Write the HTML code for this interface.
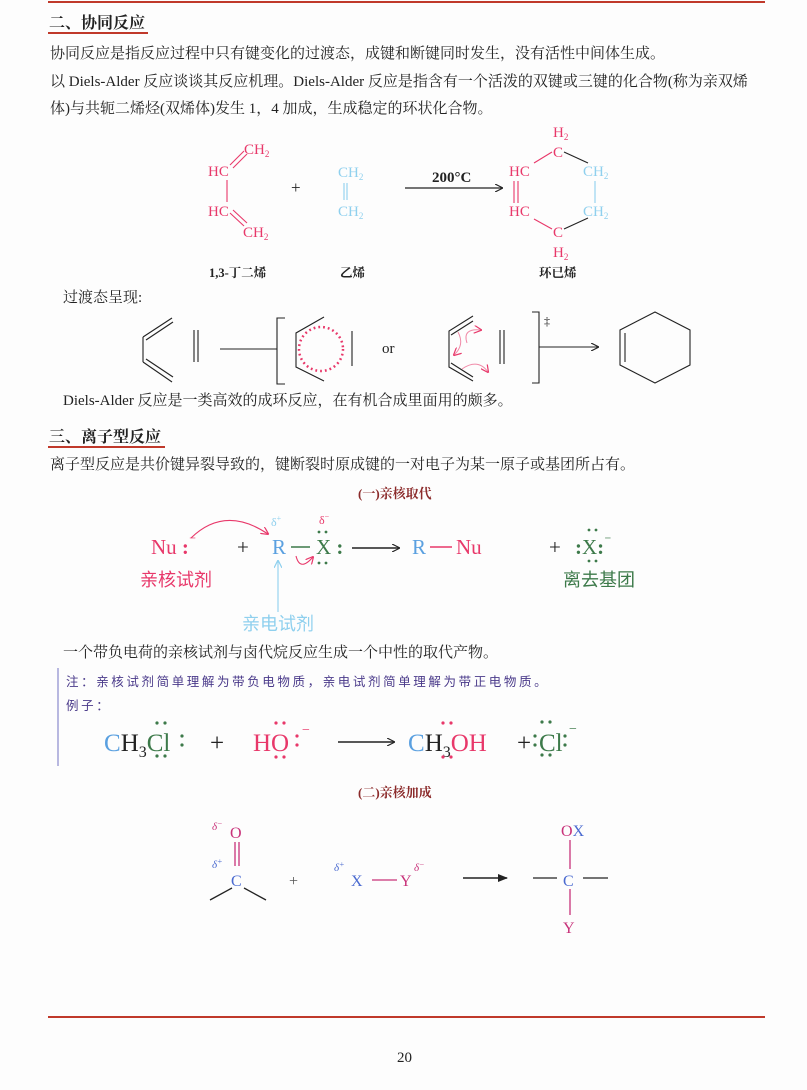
<!DOCTYPE html>
<html><head><meta charset="utf-8"><style>
html,body{margin:0;padding:0;background:#fdfdfd;}
svg{display:block;}
.b{font-family:"Liberation Serif","Noto Serif CJK SC",serif;font-size:15px;fill:#222;}
.s{font-family:"Liberation Serif","Noto Serif CJK SC",serif;}
.h{font-family:"Liberation Serif","Noto Serif CJK SC",serif;font-size:16px;font-weight:bold;fill:#222;}
.k{font-family:"Liberation Sans","Noto Sans CJK SC",sans-serif;}
</style></head><body>
<svg width="807" height="1090" viewBox="0 0 807 1090" xmlns="http://www.w3.org/2000/svg">
<defs>
<marker id="ah" markerWidth="8" markerHeight="8" refX="7" refY="4" orient="auto" markerUnits="userSpaceOnUse"><path d="M0,0 L8,4 L0,8" fill="none" stroke="#222" stroke-width="1.2"/></marker>
<marker id="af" markerWidth="10" markerHeight="8" refX="9" refY="4" orient="auto" markerUnits="userSpaceOnUse"><path d="M0,0 L10,4 L0,8 Z" fill="#222"/></marker>
<marker id="ap" markerWidth="8" markerHeight="8" refX="7" refY="4" orient="auto" markerUnits="userSpaceOnUse"><path d="M0,0 L8,4 L0,8" fill="none" stroke="#e8386a" stroke-width="1.2"/></marker>
<marker id="ab" markerWidth="8" markerHeight="8" refX="7" refY="4" orient="auto" markerUnits="userSpaceOnUse"><path d="M0,0 L8,4 L0,8" fill="none" stroke="#8fd0ee" stroke-width="1.2"/></marker>
</defs>
<line x1="48" y1="2" x2="765" y2="2" stroke="#c0392b" stroke-width="2"/>
<text x="49" y="28" class="h">二、协同反应</text>
<line x1="48" y1="33" x2="148" y2="33" stroke="#c0392b" stroke-width="2"/>
<text x="50" y="58" class="b">协同反应是指反应过程中只有键变化的过渡态，成键和断键同时发生，没有活性中间体生成。</text>
<text x="50" y="86" class="b">以 Diels-Alder 反应谈谈其反应机理。Diels-Alder 反应是指含有一个活泼的双键或三键的化合物(称为亲双烯</text>
<text x="50" y="113" class="b">体)与共轭二烯烃(双烯体)发生 1，4 加成，生成稳定的环状化合物。</text>

<!-- reaction 1 -->
<g class="s" font-size="15" fill="#e8386a">
<text x="244" y="154">CH<tspan font-size="9" dy="3">2</tspan></text>
<text x="208" y="176">HC</text>
<text x="208" y="216">HC</text>
<text x="243" y="237">CH<tspan font-size="9" dy="3">2</tspan></text>
</g>
<g stroke="#e8386a" stroke-width="1.1">
<line x1="230" y1="165" x2="244" y2="151"/><line x1="233" y1="168" x2="247" y2="154"/>
<line x1="227" y1="180" x2="227" y2="202"/>
<line x1="230" y1="213" x2="244" y2="226"/><line x1="233" y1="210" x2="247" y2="223"/>
</g>
<text x="291" y="193" class="s" font-size="17" fill="#222">+</text>
<g class="s" font-size="15" fill="#8fd0ee">
<text x="338" y="177">CH<tspan font-size="9" dy="3">2</tspan></text>
<text x="338" y="216">CH<tspan font-size="9" dy="3">2</tspan></text>
</g>
<g stroke="#8fd0ee" stroke-width="1.1"><line x1="344" y1="183" x2="344" y2="200"/><line x1="347" y1="183" x2="347" y2="200"/></g>
<text x="432" y="182" class="s" font-size="15" font-weight="bold" fill="#222">200°C</text>
<line x1="405" y1="188" x2="502" y2="188" stroke="#222" stroke-width="1.2" marker-end="url(#ah)"/>
<g class="s" font-size="15" fill="#e8386a">
<text x="553" y="137">H<tspan font-size="9" dy="3">2</tspan></text>
<text x="553" y="157">C</text>
<text x="509" y="176">HC</text>
<text x="509" y="216">HC</text>
<text x="553" y="237">C</text>
<text x="553" y="257">H<tspan font-size="9" dy="3">2</tspan></text>
</g>
<g class="s" font-size="15" fill="#8fd0ee">
<text x="583" y="176">CH<tspan font-size="9" dy="3">2</tspan></text>
<text x="583" y="216">CH<tspan font-size="9" dy="3">2</tspan></text>
</g>
<g stroke-width="1.1">
<line x1="534" y1="163" x2="552" y2="152" stroke="#e8386a"/>
<line x1="564" y1="152" x2="588" y2="163" stroke="#222"/>
<line x1="514" y1="181" x2="514" y2="203" stroke="#e8386a"/><line x1="518" y1="181" x2="518" y2="203" stroke="#e8386a"/>
<line x1="595" y1="181" x2="595" y2="203" stroke="#8fd0ee"/>
<line x1="534" y1="219" x2="552" y2="229" stroke="#e8386a"/>
<line x1="564" y1="229" x2="588" y2="218" stroke="#222"/>
</g>
<g class="s" font-size="12.5" font-weight="bold" fill="#222">
<text x="209" y="277">1,3-丁二烯</text><text x="340" y="277">乙烯</text><text x="539" y="277">环已烯</text>
</g>
<text x="63" y="302" class="b">过渡态呈现:</text>

<!-- transition state -->
<g stroke="#222" stroke-width="1.1" fill="none">
<line x1="143" y1="337" x2="172" y2="318"/><line x1="146" y1="340" x2="173" y2="322"/>
<line x1="143" y1="337" x2="143" y2="362"/>
<line x1="143" y1="362" x2="172" y2="382"/><line x1="146" y1="359" x2="173" y2="377"/>
<line x1="194" y1="330" x2="194" y2="362"/><line x1="198" y1="330" x2="198" y2="362"/>
<line x1="220" y1="349" x2="277" y2="349"/>
<polyline points="285,318 277,318 277,384 285,384"/>
<polyline points="324,317 296,333 296,367 324,381"/>
<line x1="352" y1="331" x2="352" y2="366"/>
<polyline points="473,316 449,331 449,367 473,381"/>
<line x1="451" y1="335" x2="473" y2="321"/><line x1="451" y1="363" x2="473" y2="377"/>
<line x1="500" y1="330" x2="500" y2="364"/><line x1="504" y1="330" x2="504" y2="364"/>
<polyline points="532,312 539,312 539,383 532,383"/>
<polygon points="620,330 655,312 690,330 690,365 655,383 620,365"/>
<line x1="625" y1="333" x2="625" y2="362"/>
</g>
<line x1="539" y1="347" x2="598" y2="347" stroke="#222" stroke-width="1.1" marker-end="url(#ah)"/>
<circle cx="321" cy="349" r="22" fill="none" stroke="#e8386a" stroke-width="2.5" stroke-dasharray="1.8 3"/>
<text x="382" y="353" class="s" font-size="15" fill="#222">or</text>
<text x="544" y="325" class="s" font-size="12" fill="#222">‡</text>
<g stroke="#f08aa8" stroke-width="1" fill="none">
<path d="M467,343 Q462,328 481,330" marker-end="url(#ap)"/>
<path d="M458,332 Q465,345 454,355" marker-end="url(#ap)"/>
<path d="M462,369 Q478,358 488,372" marker-end="url(#ap)"/>
</g>
<text x="63" y="405" class="b">Diels-Alder 反应是一类高效的成环反应，在有机合成里面用的颇多。</text>

<text x="49" y="442" class="h">三、离子型反应</text>
<line x1="48" y1="447" x2="165" y2="447" stroke="#c0392b" stroke-width="2"/>
<text x="50" y="469" class="b">离子型反应是共价键异裂导致的，键断裂时原成键的一对电子为某一原子或基团所占有。</text>
<text x="358" y="498" class="s" font-size="13" font-weight="bold" fill="#8b2a2a">(一)亲核取代</text>

<!-- nucleophilic substitution -->
<g class="s" font-size="21">
<text x="151" y="554" fill="#e8386a">Nu<tspan font-weight="bold"> :</tspan><tspan font-size="14" dy="-9">⁻</tspan></text>
<text x="237" y="554" fill="#222">+</text>
<text x="272" y="554" fill="#5aa0e0">R</text>
<text x="316" y="554" fill="#3d7a4a">X<tspan font-weight="bold"> :</tspan></text>
<text x="412" y="554" fill="#5aa0e0">R</text>
<text x="456" y="554" fill="#e8386a">Nu</text>
<text x="549" y="554" fill="#222">+</text>
<text x="575" y="554" fill="#3d7a4a"><tspan font-weight="bold">:</tspan>X<tspan font-weight="bold">:</tspan><tspan font-size="14" dy="-9">⁻</tspan></text>
</g>
<line x1="291" y1="547" x2="310" y2="547" stroke="#3d7a4a" stroke-width="1.5"/>
<line x1="430" y1="547" x2="452" y2="547" stroke="#e8386a" stroke-width="1.5"/>
<line x1="352" y1="548" x2="399" y2="548" stroke="#222" stroke-width="1.6" marker-end="url(#ah)"/>
<g fill="#3d7a4a"><circle cx="319" cy="532" r="1.4"/><circle cx="326" cy="532" r="1.4"/><circle cx="319" cy="563" r="1.4"/><circle cx="326" cy="563" r="1.4"/>
<circle cx="589" cy="530" r="1.4"/><circle cx="596" cy="530" r="1.4"/><circle cx="589" cy="561" r="1.4"/><circle cx="596" cy="561" r="1.4"/></g>
<text x="271" y="526" class="s" font-size="12" fill="#8fd0ee">δ<tspan font-size="8" dy="-5">+</tspan></text>
<text x="319" y="524" class="s" font-size="12" fill="#e8386a">δ<tspan font-size="8" dy="-5">−</tspan></text>
<path d="M191,538 Q225,505 268,534" fill="none" stroke="#e8386a" stroke-width="1.1" marker-end="url(#ap)"/>
<path d="M296,556 Q300,572 313,557" fill="none" stroke="#e8386a" stroke-width="1.1" marker-end="url(#ap)"/>
<line x1="278" y1="612" x2="278" y2="561" stroke="#8fd0ee" stroke-width="1.1" marker-end="url(#ab)"/>
<g class="k" font-size="18">
<text x="140" y="586" fill="#e8386a">亲核试剂</text>
<text x="563" y="586" fill="#3d7a4a">离去基团</text>
<text x="242" y="630" fill="#8fd0ee">亲电试剂</text>
</g>
<text x="63" y="657" class="b">一个带负电荷的亲核试剂与卤代烷反应生成一个中性的取代产物。</text>

<line x1="58" y1="668" x2="58" y2="766" stroke="#b8b8e0" stroke-width="2"/>
<text x="66" y="686" class="k" font-size="12.5" letter-spacing="2.6" fill="#4a3a8a">注：亲核试剂简单理解为带负电物质，亲电试剂简单理解为带正电物质。</text>
<text x="66" y="710" class="k" font-size="12.5" letter-spacing="2.6" fill="#4a3a8a">例子：</text>
<g class="s" font-size="25">
<text x="104" y="751"><tspan fill="#5aa0e0">C</tspan><tspan fill="#222">H</tspan><tspan fill="#222" font-size="16" dy="6">3</tspan><tspan fill="#3d7a4a" dy="-6">Cl</tspan></text>
<text x="210" y="751" fill="#222">+</text>
<text x="253" y="751" fill="#e8386a">HO</text>
<text x="408" y="751"><tspan fill="#5aa0e0">C</tspan><tspan fill="#222">H</tspan><tspan fill="#222" font-size="16" dy="6">3</tspan><tspan fill="#e8386a" dy="-6">OH</tspan></text>
<text x="517" y="751" fill="#222">+</text>
<text x="539" y="751" fill="#3d7a4a">Cl</text>
</g>
<line x1="338" y1="742" x2="394" y2="742" stroke="#222" stroke-width="1.4" marker-end="url(#ah)"/>
<g fill="#3d7a4a"><circle cx="157" cy="723" r="1.6"/><circle cx="165" cy="723" r="1.6"/><circle cx="157" cy="756" r="1.6"/><circle cx="165" cy="756" r="1.6"/><circle cx="182" cy="736" r="1.6"/><circle cx="182" cy="745" r="1.6"/>
<circle cx="535" cy="736" r="1.6"/><circle cx="535" cy="745" r="1.6"/><circle cx="542" cy="722" r="1.6"/><circle cx="550" cy="722" r="1.6"/><circle cx="542" cy="755" r="1.6"/><circle cx="550" cy="755" r="1.6"/><circle cx="565" cy="736" r="1.6"/><circle cx="565" cy="745" r="1.6"/></g>
<g fill="#e8386a"><circle cx="276" cy="723" r="1.6"/><circle cx="284" cy="723" r="1.6"/><circle cx="276" cy="757" r="1.6"/><circle cx="284" cy="757" r="1.6"/><circle cx="297" cy="736" r="1.6"/><circle cx="297" cy="745" r="1.6"/>
<circle cx="443" cy="723" r="1.6"/><circle cx="451" cy="723" r="1.6"/><circle cx="443" cy="757" r="1.6"/><circle cx="451" cy="757" r="1.6"/></g>
<text x="302" y="734" class="s" font-size="14" fill="#e8386a">−</text>
<text x="569" y="733" class="s" font-size="14" fill="#3d7a4a">−</text>

<text x="358" y="797" class="s" font-size="13" font-weight="bold" fill="#8b2a2a">(二)亲核加成</text>
<!-- nucleophilic addition -->
<g class="s" font-size="16">
<text x="230" y="838" fill="#c8327a">O</text>
<text x="212" y="830" font-size="11" font-style="italic" fill="#c8327a">δ<tspan font-size="8" dy="-4">−</tspan></text>
<text x="212" y="868" font-size="11" font-style="italic" fill="#4a6ad0">δ<tspan font-size="8" dy="-4">+</tspan></text>
<text x="231" y="886" fill="#4a6ad0">C</text>
<text x="289" y="886" fill="#555">+</text>
<text x="334" y="871" font-size="11" font-style="italic" fill="#4a6ad0">δ<tspan font-size="8" dy="-4">+</tspan></text>
<text x="351" y="886" fill="#4a6ad0">X</text>
<text x="400" y="886" fill="#c8327a">Y</text>
<text x="414" y="871" font-size="11" font-style="italic" fill="#c8327a">δ<tspan font-size="8" dy="-4">−</tspan></text>
<text x="561" y="836" fill="#c8327a">O<tspan fill="#4a6ad0">X</tspan></text>
<text x="563" y="886" fill="#4a6ad0">C</text>
<text x="563" y="933" fill="#c8327a">Y</text>
</g>
<g stroke-width="1.3">
<line x1="235" y1="842" x2="235" y2="866" stroke="#c8327a"/><line x1="239" y1="842" x2="239" y2="866" stroke="#c8327a"/>
<line x1="232" y1="888" x2="210" y2="900" stroke="#222"/><line x1="244" y1="888" x2="266" y2="900" stroke="#222"/>
<line x1="372" y1="880" x2="397" y2="880" stroke="#c8327a"/>
<line x1="570" y1="840" x2="570" y2="869" stroke="#c8327a"/>
<line x1="533" y1="878" x2="557" y2="878" stroke="#222"/><line x1="583" y1="878" x2="608" y2="878" stroke="#222"/>
<line x1="570" y1="889" x2="570" y2="915" stroke="#c8327a"/>
</g>
<line x1="463" y1="878" x2="507" y2="878" stroke="#222" stroke-width="1.4" marker-end="url(#af)"/>

<line x1="48" y1="1017" x2="765" y2="1017" stroke="#c0392b" stroke-width="2"/>
<text x="397" y="1062" class="s" font-size="15" fill="#222">20</text>
</svg>
</body></html>
